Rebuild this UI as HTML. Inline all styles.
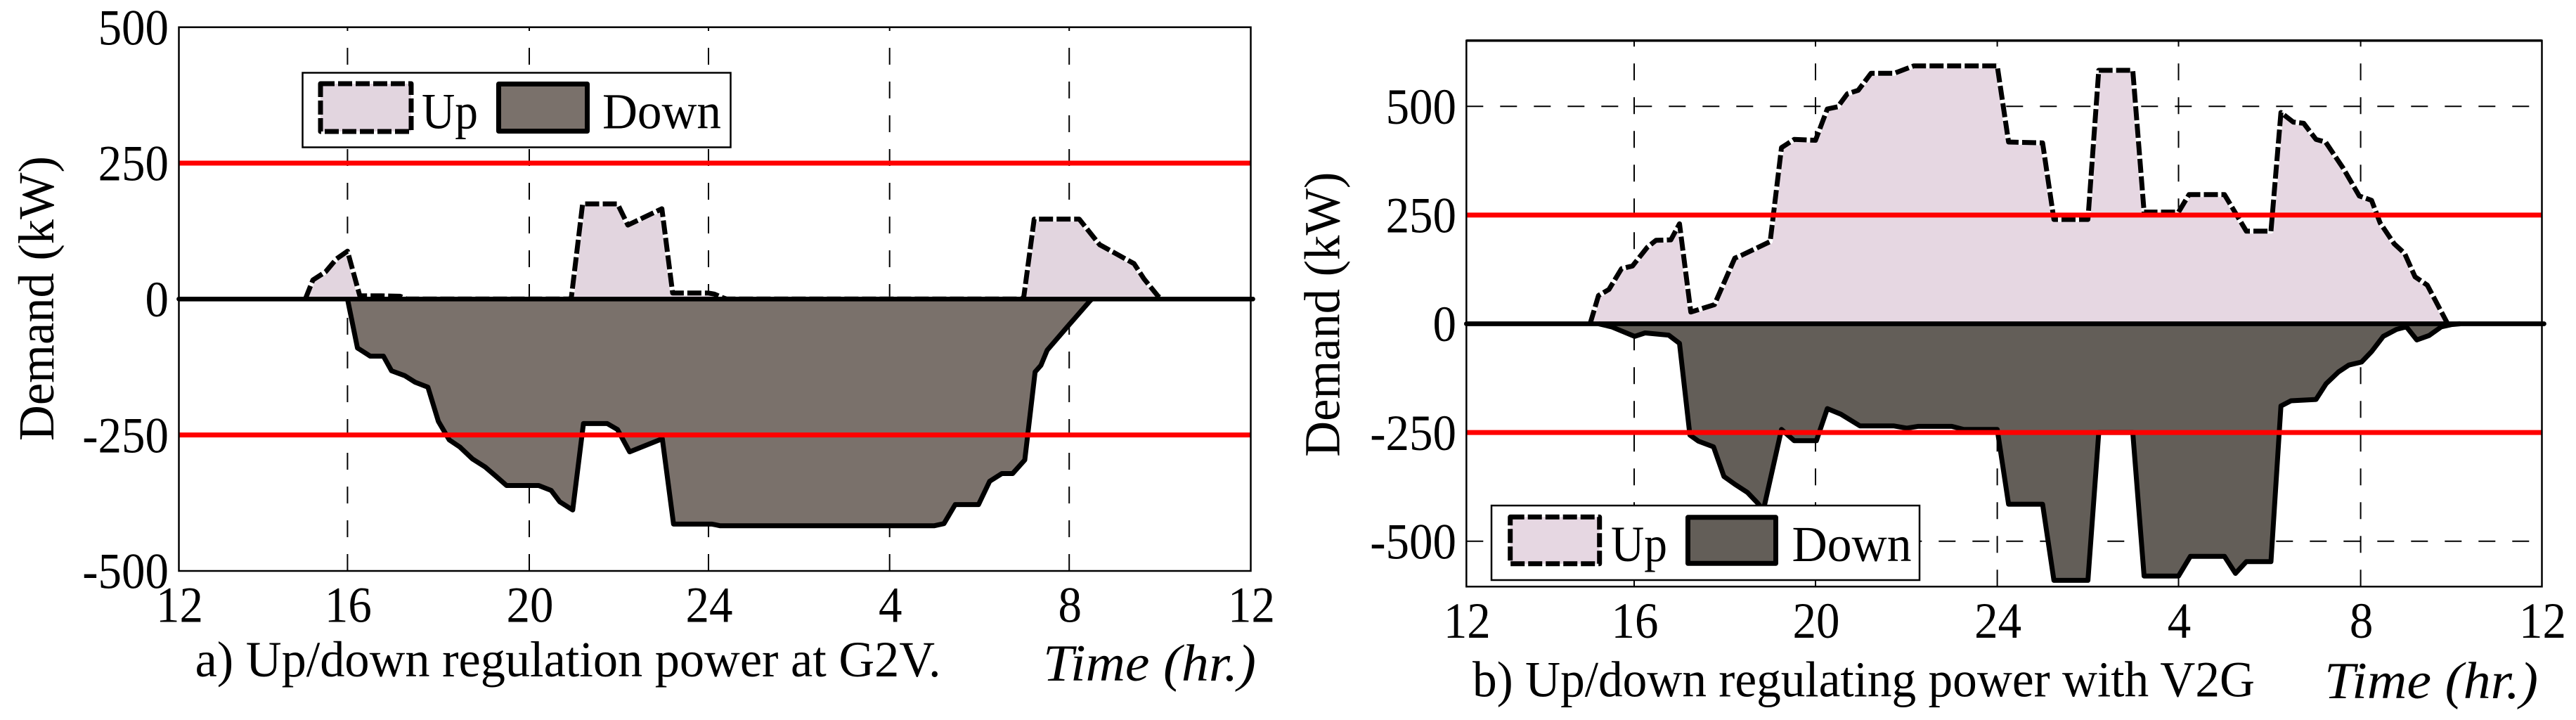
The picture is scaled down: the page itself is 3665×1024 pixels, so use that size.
<!DOCTYPE html>
<html lang="en">
<head>
<meta charset="utf-8">
<title>Up/down regulation power</title>
<style>
html,body{margin:0;padding:0;background:#fff;width:3665px;height:1024px;overflow:hidden}
svg{display:block}
text{font-family:"Liberation Serif",serif;fill:#000}
</style>
</head>
<body>
<svg id="figure" xmlns="http://www.w3.org/2000/svg" width="3665" height="1024" viewBox="0 0 3665 1024">
  <rect x="0" y="0" width="3665" height="1024" fill="#fff"/>
  <g id="panel-a"></g>
  <g id="panel-b"></g>

  <g>
    <rect x="430.5" y="103.5" width="609" height="106" fill="#fff" stroke="#000" stroke-width="2.5"/>
    <rect x="456" y="119" width="129" height="68" fill="#e2d5df" stroke="#000" stroke-width="7" stroke-dasharray="20 5" stroke-linejoin="round"/>
    <text x="600" y="182.7" font-size="72" textLength="80" lengthAdjust="spacingAndGlyphs">Up</text>
    <rect x="709.5" y="119.5" width="126" height="67" fill="#7a716b" stroke="#000" stroke-width="7" stroke-linejoin="round"/>
    <text x="857" y="182.7" font-size="72" textLength="169" lengthAdjust="spacingAndGlyphs">Down</text>
  </g>
  <text transform="translate(75.8,627) rotate(-90)" font-size="72" textLength="405" lengthAdjust="spacingAndGlyphs">Demand (kW)</text>
  <text x="277.6" y="962" font-size="72" textLength="1061" lengthAdjust="spacingAndGlyphs">a) Up/down regulation power at G2V.</text>
  <text x="1484" y="968" font-size="74" font-style="italic" textLength="303" lengthAdjust="spacingAndGlyphs">Time (hr.)</text>

  <g>
    <rect x="2122" y="719" width="609" height="106" fill="#fff" stroke="#000" stroke-width="2.5"/>
    <rect x="2148.7" y="735.3" width="127" height="66.5" fill="#e6d7e2" stroke="#000" stroke-width="7" stroke-dasharray="20 5" stroke-linejoin="round"/>
    <text x="2292" y="798" font-size="72" textLength="80" lengthAdjust="spacingAndGlyphs">Up</text>
    <rect x="2401.5" y="735.8" width="125" height="65.5" fill="#635e58" stroke="#000" stroke-width="7" stroke-linejoin="round"/>
    <text x="2549.5" y="798" font-size="72" textLength="170" lengthAdjust="spacingAndGlyphs">Down</text>
  </g>
  <text transform="translate(1905.7,649.7) rotate(-90)" font-size="72" textLength="405" lengthAdjust="spacingAndGlyphs">Demand (kW)</text>
  <text x="2095" y="990.7" font-size="72" textLength="1113" lengthAdjust="spacingAndGlyphs">b) Up/down regulating power with V2G</text>
  <text x="3307" y="993" font-size="74" font-style="italic" textLength="304" lengthAdjust="spacingAndGlyphs">Time (hr.)</text>
</svg>

<script>
// Shared axis values (hours are continuous clock hours: 12 .. 36 = noon to next noon)
const xTickHours = [12, 16, 20, 24, 28, 32, 36];
const xTickLabels = ['12', '16', '20', '24', '4', '8', '12'];
const yTickValues = [500, 250, 0, -250, -500];
const yTickLabels = ['500', '250', '0', '-250', '-500'];
const limitValues = [250, -250];

// Panel a) G2V
const aUpHours = [15.0, 15.18, 15.48, 15.74, 16.0, 16.27, 16.74, 17.16, 17.3, 20.9, 20.94, 21.19, 21.97, 22.2, 22.96, 23.2, 24.0, 24.13, 24.3, 24.4, 30.95, 30.99, 31.22, 32.22, 32.67, 33.43, 33.65, 33.96, 34.05];
const aUpValues = [0, 35, 50, 74, 88, 6, 6, 5, 0, 0, 3, 175, 175, 136, 166, 11, 11, 9, 3, 0, 0, 5, 147, 147, 100, 65, 37, 5, 0];
const aDownHours = [16.0, 16.22, 16.5, 16.79, 16.97, 17.26, 17.49, 17.77, 18.0, 18.24, 18.47, 18.75, 19.03, 19.27, 19.5, 20.21, 20.49, 20.68, 20.97, 21.21, 21.74, 21.97, 22.24, 22.97, 23.22, 24.08, 24.26, 28.99, 29.21, 29.46, 29.98, 30.23, 30.5, 30.74, 31.01, 31.24, 31.37, 31.51, 31.96, 32.45, 32.5];
const aDownValues = [0, -90, -105, -105, -132, -141, -153, -162, -225, -259, -272, -294, -309, -326, -343, -343, -352, -373, -388, -229, -229, -240, -281, -257, -414, -414, -417, -417, -413, -378, -378, -335, -321, -321, -296, -134, -122, -94, -51, -4, 0];

// Panel b) V2G
const bUpHours = [14.95, 15.15, 15.4, 15.7, 15.96, 16.29, 16.48, 16.81, 17.0, 17.25, 17.77, 18.22, 18.36, 19.0, 19.25, 19.53, 20.0, 20.26, 20.49, 20.7, 20.94, 21.22, 21.73, 22.16, 24.0, 24.25, 25.0, 25.25, 26.0, 26.24, 26.99, 27.24, 28.0, 28.23, 29.01, 29.49, 30.03, 30.25, 30.52, 30.75, 31.02, 31.23, 31.61, 31.97, 32.24, 32.43, 32.74, 32.97, 33.2, 33.47, 33.92];
const bUpValues = [0, 65, 79, 127, 133, 176, 192, 193, 230, 27, 44, 151, 157, 189, 405, 424, 422, 494, 499, 529, 537, 576, 576, 593, 593, 418, 416, 240, 240, 583, 583, 257, 257, 297, 297, 213, 213, 486, 464, 461, 424, 418, 359, 294, 284, 232, 184, 162, 108, 89, 0];
const bDownHours = [15.15, 15.46, 16.01, 16.24, 16.76, 17.0, 17.23, 17.42, 17.75, 17.98, 18.22, 18.5, 18.73, 18.85, 19.25, 19.53, 20.02, 20.26, 20.56, 20.98, 21.73, 22.01, 22.25, 23.0, 23.26, 24.0, 24.25, 25.0, 25.25, 26.0, 26.24, 26.99, 27.24, 28.0, 28.26, 29.01, 29.25, 29.49, 30.03, 30.25, 30.47, 31.02, 31.24, 31.51, 31.74, 32.02, 32.24, 32.5, 32.79, 33.01, 33.24, 33.51, 33.78, 34.0, 34.2];
const bDownValues = [0, -7, -29, -21, -26, -45, -256, -270, -283, -351, -369, -388, -413, -429, -243, -269, -269, -195, -208, -235, -235, -240, -236, -236, -243, -243, -415, -415, -590, -590, -250, -250, -580, -580, -535, -535, -574, -547, -547, -189, -177, -174, -138, -111, -95, -88, -64, -29, -13, -7, -37, -27, -7, -2, 0];

const NS = 'http://www.w3.org/2000/svg';

function node(parent, tag, attrs, text) {
  const el = document.createElementNS(NS, tag);
  for (const k in attrs) el.setAttribute(k, attrs[k]);
  if (text !== undefined) el.textContent = text;
  parent.appendChild(el);
  return el;
}

// Piecewise-linear time axis: the source figure's tick spacing is not uniform.
function timeScale(ticks, rangeKnots) {
  return function (h) {
    let i = 0;
    while (i < ticks.length - 2 && h > ticks[i + 1]) i++;
    const t = (h - ticks[i]) / (ticks[i + 1] - ticks[i]);
    return rangeKnots[i] + t * (rangeKnots[i + 1] - rangeKnots[i]);
  };
}

function linePoints(hours, values, x, y) {
  return hours.map(function (h, i) {
    return x(h).toFixed(1) + ',' + y(values[i]).toFixed(1);
  }).join(' ');
}

function drawPanel(root, cfg) {
  const x = timeScale(xTickHours, cfg.xKnots);
  const y = function (v) { return cfg.yZero - v * cfg.yPerUnit; };
  const left = cfg.xKnots[0];
  const right = cfg.xKnots[cfg.xKnots.length - 1];

  // Grid
  xTickHours.slice(1, -1).forEach(function (h) {
    const el = node(root, 'line', { x1: x(h), x2: x(h), y1: cfg.bottom, y2: cfg.top, stroke: '#000', 'stroke-width': 2, 'stroke-dasharray': '24 24' });
    
    
  });
  yTickValues.forEach(function (v) {
    const el = node(root, 'line', { x1: left, x2: right, y1: y(v), y2: y(v), stroke: '#000', 'stroke-width': 2, 'stroke-dasharray': '24 24' });
    
    
  });

  // Up series
  const upPts = linePoints(cfg.upHours, cfg.upValues, x, y);
  const upFirst = cfg.upHours[0];
  const upLast = cfg.upHours[cfg.upHours.length - 1];
  const upArea = node(root, 'polygon', { points: x(upFirst) + ',' + y(0) + ' ' + upPts + ' ' + x(upLast) + ',' + y(0), fill: cfg.upFill });
  
  
  const upHalo = node(root, 'polyline', { points: upPts, fill: 'none', stroke: '#fff', 'stroke-width': 7, 'stroke-linejoin': 'round' });
  
  
  const upLine = node(root, 'polyline', { points: upPts, fill: 'none', stroke: '#000', 'stroke-width': 7, 'stroke-dasharray': '20 5', 'stroke-linejoin': 'round' });
  
  

  // Down series
  const downPts = linePoints(cfg.downHours, cfg.downValues, x, y);
  const downFirst = cfg.downHours[0];
  const downLast = cfg.downHours[cfg.downHours.length - 1];
  const downArea = node(root, 'polygon', { points: x(downFirst) + ',' + y(0) + ' ' + downPts + ' ' + x(downLast) + ',' + y(0), fill: cfg.downFill });
  
  
  const downLine = node(root, 'polyline', { points: downPts, fill: 'none', stroke: '#000', 'stroke-width': 7, 'stroke-linejoin': 'round' });
  
  

  // Zero line
  const zero = node(root, 'line', { x1: left, x2: right + 3, y1: y(0), y2: y(0), stroke: '#000', 'stroke-width': 6.7, 'stroke-linecap': 'round' });
  
  

  // Limits
  limitValues.forEach(function (v) {
    const el = node(root, 'line', { x1: left, x2: right, y1: y(v), y2: y(v), stroke: '#ff0000', 'stroke-width': 7 });
    
    
  });

  // Frame
  const frame = node(root, 'rect', { x: left, y: cfg.top, width: right - left, height: cfg.bottom - cfg.top, fill: 'none', stroke: '#000', 'stroke-width': 2.5 });
  
  
  const topEdge = node(root, 'line', { x1: left, x2: right, y1: cfg.top, y2: cfg.top, stroke: '#000', 'stroke-width': cfg.topEdgeWidth });
  
  

  // Tick labels
  yTickValues.forEach(function (v, i) {
    const el = node(root, 'text', { transform: 'translate(' + cfg.yLabelRight + ',' + (y(v) + 24.7) + ') scale(.93,1)', 'font-size': 72, 'text-anchor': 'end' }, yTickLabels[i]);
    
    
  });
  xTickHours.forEach(function (h, i) {
    const el = node(root, 'text', { transform: 'translate(' + (x(h) + 1) + ',' + (cfg.bottom + 72.7) + ') scale(.93,1)', 'font-size': 72, 'text-anchor': 'middle' }, xTickLabels[i]);
    
    
  });
}

drawPanel(document.getElementById('panel-a'), {
  xKnots: [254.5, 494.4, 753, 1008, 1265.7, 1521.2, 1779.5],
  yZero: 425.3, yPerUnit: 0.7733, top: 38.7, bottom: 812, yLabelRight: 240, topEdgeWidth: 2.5,
  upHours: aUpHours, upValues: aUpValues, downHours: aDownHours, downValues: aDownValues,
  upFill: '#e2d5df', downFill: '#7a716b'
});

drawPanel(document.getElementById('panel-b'), {
  xKnots: [2086.3, 2325, 2583, 2841.6, 3099.5, 3358.6, 3616.5],
  yZero: 460.5, yPerUnit: 0.6184, top: 57.7, bottom: 834.3, yLabelRight: 2072, topEdgeWidth: 3.5,
  upHours: bUpHours, upValues: bUpValues, downHours: bDownHours, downValues: bDownValues,
  upFill: '#e6d7e2', downFill: '#635e58'
});
</script>
</body>
</html>
